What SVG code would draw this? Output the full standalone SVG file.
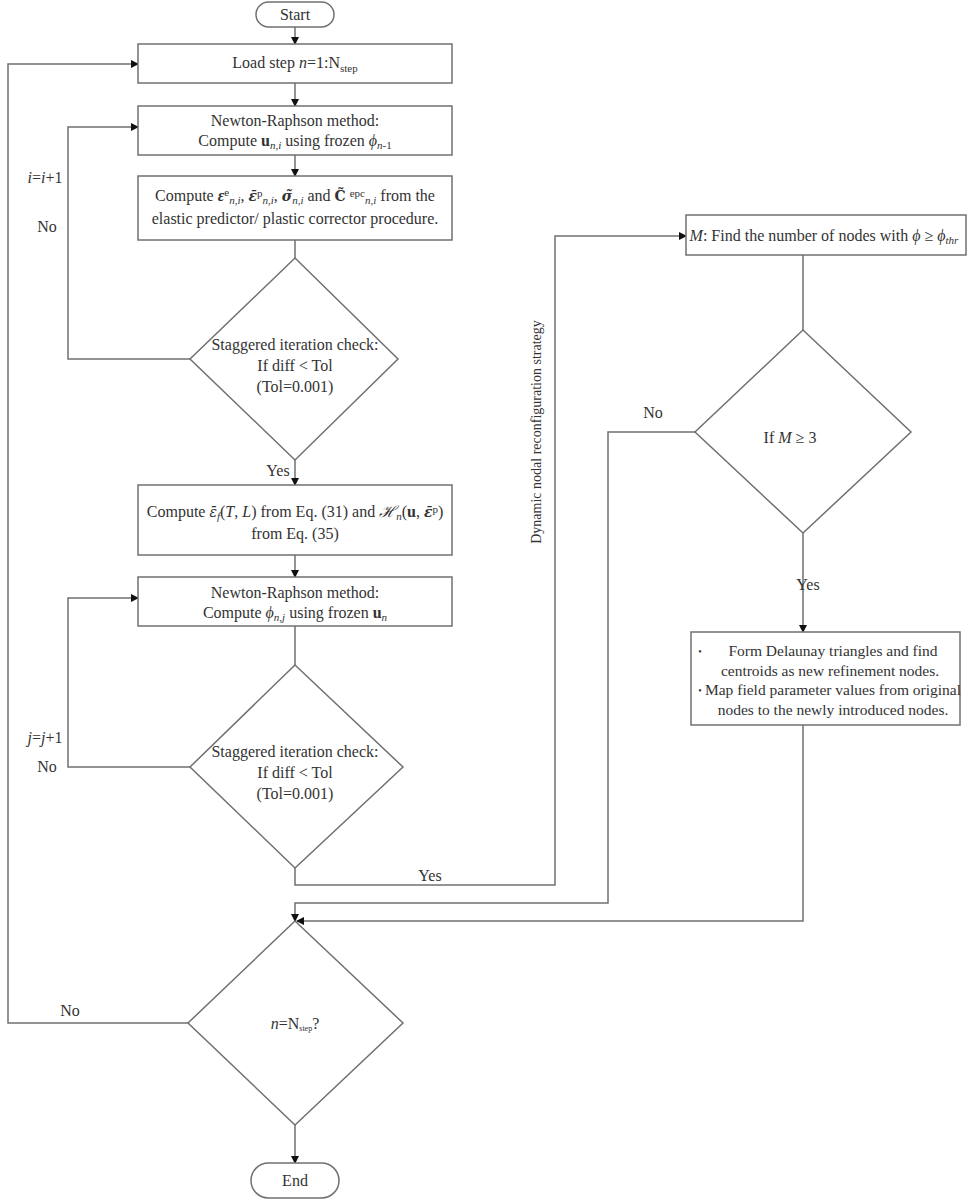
<svg xmlns="http://www.w3.org/2000/svg" width="974" height="1200" viewBox="0 0 974 1200">
<defs>
<marker id="arr" markerWidth="8" markerHeight="8" refX="7" refY="4" orient="auto" markerUnits="userSpaceOnUse">
<path d="M0,0 L8,4 L0,8 Z" fill="#111"/>
</marker>
<style>
.box{fill:#fff;stroke:#707070;stroke-width:1.5}
.ln{fill:none;stroke:#707070;stroke-width:1.5}
text{font-family:"Liberation Serif","Times New Roman",serif;font-size:16px;fill:#333}
.c{text-anchor:middle}
.i{font-style:italic}
.b{font-weight:bold}
.s{font-size:11px}
.acc{font-family:"DejaVu Serif","Liberation Serif",serif;font-size:14px}
</style>
</defs>
<rect width="974" height="1200" fill="#fff"/>

<g id="connectors">
<path class="ln" d="M295,27 V44" marker-end="url(#arr)"/>
<path class="ln" d="M295,83 V106" marker-end="url(#arr)"/>
<path class="ln" d="M295,155 V176" marker-end="url(#arr)"/>
<path class="ln" d="M295,240 V258"/>
<path class="ln" d="M190,359 H68 V127 H138" marker-end="url(#arr)"/>
<path class="ln" d="M295,460 V485" marker-end="url(#arr)"/>
<path class="ln" d="M295,555 V577" marker-end="url(#arr)"/>
<path class="ln" d="M295,626 V665"/>
<path class="ln" d="M190,767 H68 V598 H138" marker-end="url(#arr)"/>
<path class="ln" d="M295,868 V885 H555 V236 H686" marker-end="url(#arr)"/>
<path class="ln" d="M803,255 V330"/>
<path class="ln" d="M695,432 H608 V903 H295 V921" marker-end="url(#arr)"/>
<path class="ln" d="M803,533 V632" marker-end="url(#arr)"/>
<path class="ln" d="M803,725 V921 H297" marker-end="url(#arr)"/>
<path class="ln" d="M188,1023 H8 V64 H138" marker-end="url(#arr)"/>
<path class="ln" d="M295,1125 V1163" marker-end="url(#arr)"/>
<text x="45" y="183" class="c"><tspan class="i">i</tspan>=<tspan class="i">i</tspan>+1</text>
<text x="47" y="232" class="c">No</text>
<text x="278" y="476" class="c">Yes</text>
<text x="45" y="743" class="c"><tspan class="i">j</tspan>=<tspan class="i">j</tspan>+1</text>
<text x="47" y="772" class="c">No</text>
<text x="430" y="881" class="c">Yes</text>
<text x="653" y="418" class="c">No</text>
<text x="808" y="590" class="c">Yes</text>
<text x="70" y="1016" class="c">No</text>
<text x="0" y="0" class="c" style="font-size:14px" transform="translate(541,432) rotate(-90)">Dynamic nodal reconfiguration strategy</text>
</g>

<g id="start">
<rect class="box" x="256" y="2" width="78" height="25" rx="12.5"/>
<text x="295" y="20" class="c">Start</text>
</g>

<g id="load-step">
<rect class="box" x="138" y="44" width="314" height="39"/>
<text x="295" y="68" class="c">Load step <tspan class="i">n</tspan>=1:N<tspan class="s" dy="4">step</tspan></text>
</g>

<g id="newton-u">
<rect class="box" x="138" y="106" width="314" height="49"/>
<text x="295" y="126" class="c">Newton-Raphson method:</text>
<text x="295" y="146" class="c">Compute <tspan class="b">u</tspan><tspan class="s i" dy="3">n,i</tspan><tspan dy="-3"> using frozen </tspan><tspan class="i">ϕ</tspan><tspan class="s" dy="3"><tspan class="i">n</tspan>-1</tspan></text>
</g>

<g id="compute-stress">
<rect class="box" x="138" y="176" width="314" height="64"/>
<text x="295" y="201" class="c">Compute <tspan class="b i">ε</tspan><tspan class="s" dy="-5">e</tspan><tspan class="s i" dy="8">n,i</tspan><tspan dy="-3">, </tspan><tspan class="b i acc">ε̄</tspan><tspan class="s" dy="-4">p</tspan><tspan class="s i" dy="7">n,i</tspan><tspan dy="-3">, </tspan><tspan class="b i acc">σ̃</tspan><tspan class="s i" dy="3">n,i</tspan><tspan dy="-3"> and </tspan><tspan class="b acc">C̃</tspan><tspan> </tspan><tspan class="s" dy="-4">epc</tspan><tspan class="s i" dy="7">n,i</tspan><tspan dy="-3"> from the</tspan></text>
<text x="295" y="224" class="c">elastic predictor/ plastic corrector procedure.</text>
</g>

<g id="check-u">
<polygon class="box" points="295,258 398,359 295,460 190,359"/>
<text x="295" y="350" class="c">Staggered iteration check:</text>
<text x="295" y="371" class="c">If diff &lt; Tol</text>
<text x="295" y="392" class="c">(Tol=0.001)</text>
</g>

<g id="compute-history">
<rect class="box" x="138" y="485" width="314" height="70"/>
<text x="295" y="517" class="c">Compute <tspan class="i acc">ε̄</tspan><tspan class="s i" dy="3">f</tspan><tspan dy="-3">(</tspan><tspan class="i">T</tspan>, <tspan class="i">L</tspan>) from Eq. (31) and <tspan class="i">ℋ</tspan><tspan class="s i" dy="3">n</tspan><tspan dy="-3">(</tspan><tspan class="b">u</tspan>, <tspan class="b i acc">ε̄</tspan><tspan class="s" dy="-4">p</tspan><tspan dy="4">)</tspan></text>
<text x="295" y="539" class="c">from Eq. (35)</text>
</g>

<g id="newton-phi">
<rect class="box" x="138" y="577" width="314" height="49"/>
<text x="295" y="598" class="c">Newton-Raphson method:</text>
<text x="295" y="618" class="c">Compute <tspan class="i">ϕ</tspan><tspan class="s i" dy="3">n,j</tspan><tspan dy="-3"> using frozen </tspan><tspan class="b">u</tspan><tspan class="s i" dy="3">n</tspan></text>
</g>

<g id="check-phi">
<polygon class="box" points="295,665 403,767 295,868 190,767"/>
<text x="295" y="757" class="c">Staggered iteration check:</text>
<text x="295" y="778" class="c">If diff &lt; Tol</text>
<text x="295" y="799" class="c">(Tol=0.001)</text>
</g>

<g id="count-nodes">
<rect class="box" x="686" y="215" width="280" height="40"/>
<text x="824" y="241" class="c"><tspan class="i">M</tspan>: Find the number of nodes with <tspan class="i">ϕ</tspan> ≥ <tspan class="i">ϕ</tspan><tspan class="s i" dy="3">thr</tspan></text>
</g>

<g id="check-m">
<polygon class="box" points="803,330 911,432 803,533 695,432"/>
<text x="790" y="443" class="c">If <tspan class="i">M</tspan> ≥ 3</text>
</g>

<g id="refine">
<rect class="box" x="691" y="632" width="269" height="93"/>
<text x="700" y="655" class="c" style="font-size:10px">•</text>
<text x="700" y="694" class="c" style="font-size:10px">•</text>
<text x="833" y="656" class="c" style="font-size:15.5px">Form Delaunay triangles and find</text>
<text x="830" y="676" class="c" style="font-size:15.5px">centroids as new refinement nodes.</text>
<text x="833" y="695" class="c" style="font-size:15.5px">Map field parameter values from original</text>
<text x="833" y="715" class="c" style="font-size:15.5px">nodes to the newly introduced nodes.</text>
</g>

<g id="check-step">
<polygon class="box" points="295,921 403,1023 295,1125 188,1023"/>
<text x="295" y="1029" class="c"><tspan class="i">n</tspan>=N<tspan style="font-size:8px" dy="2">step</tspan><tspan dy="-2">?</tspan></text>
</g>

<g id="end">
<rect class="box" x="251" y="1163" width="88" height="35" rx="17.5"/>
<text x="295" y="1186" class="c">End</text>
</g>
</svg>
